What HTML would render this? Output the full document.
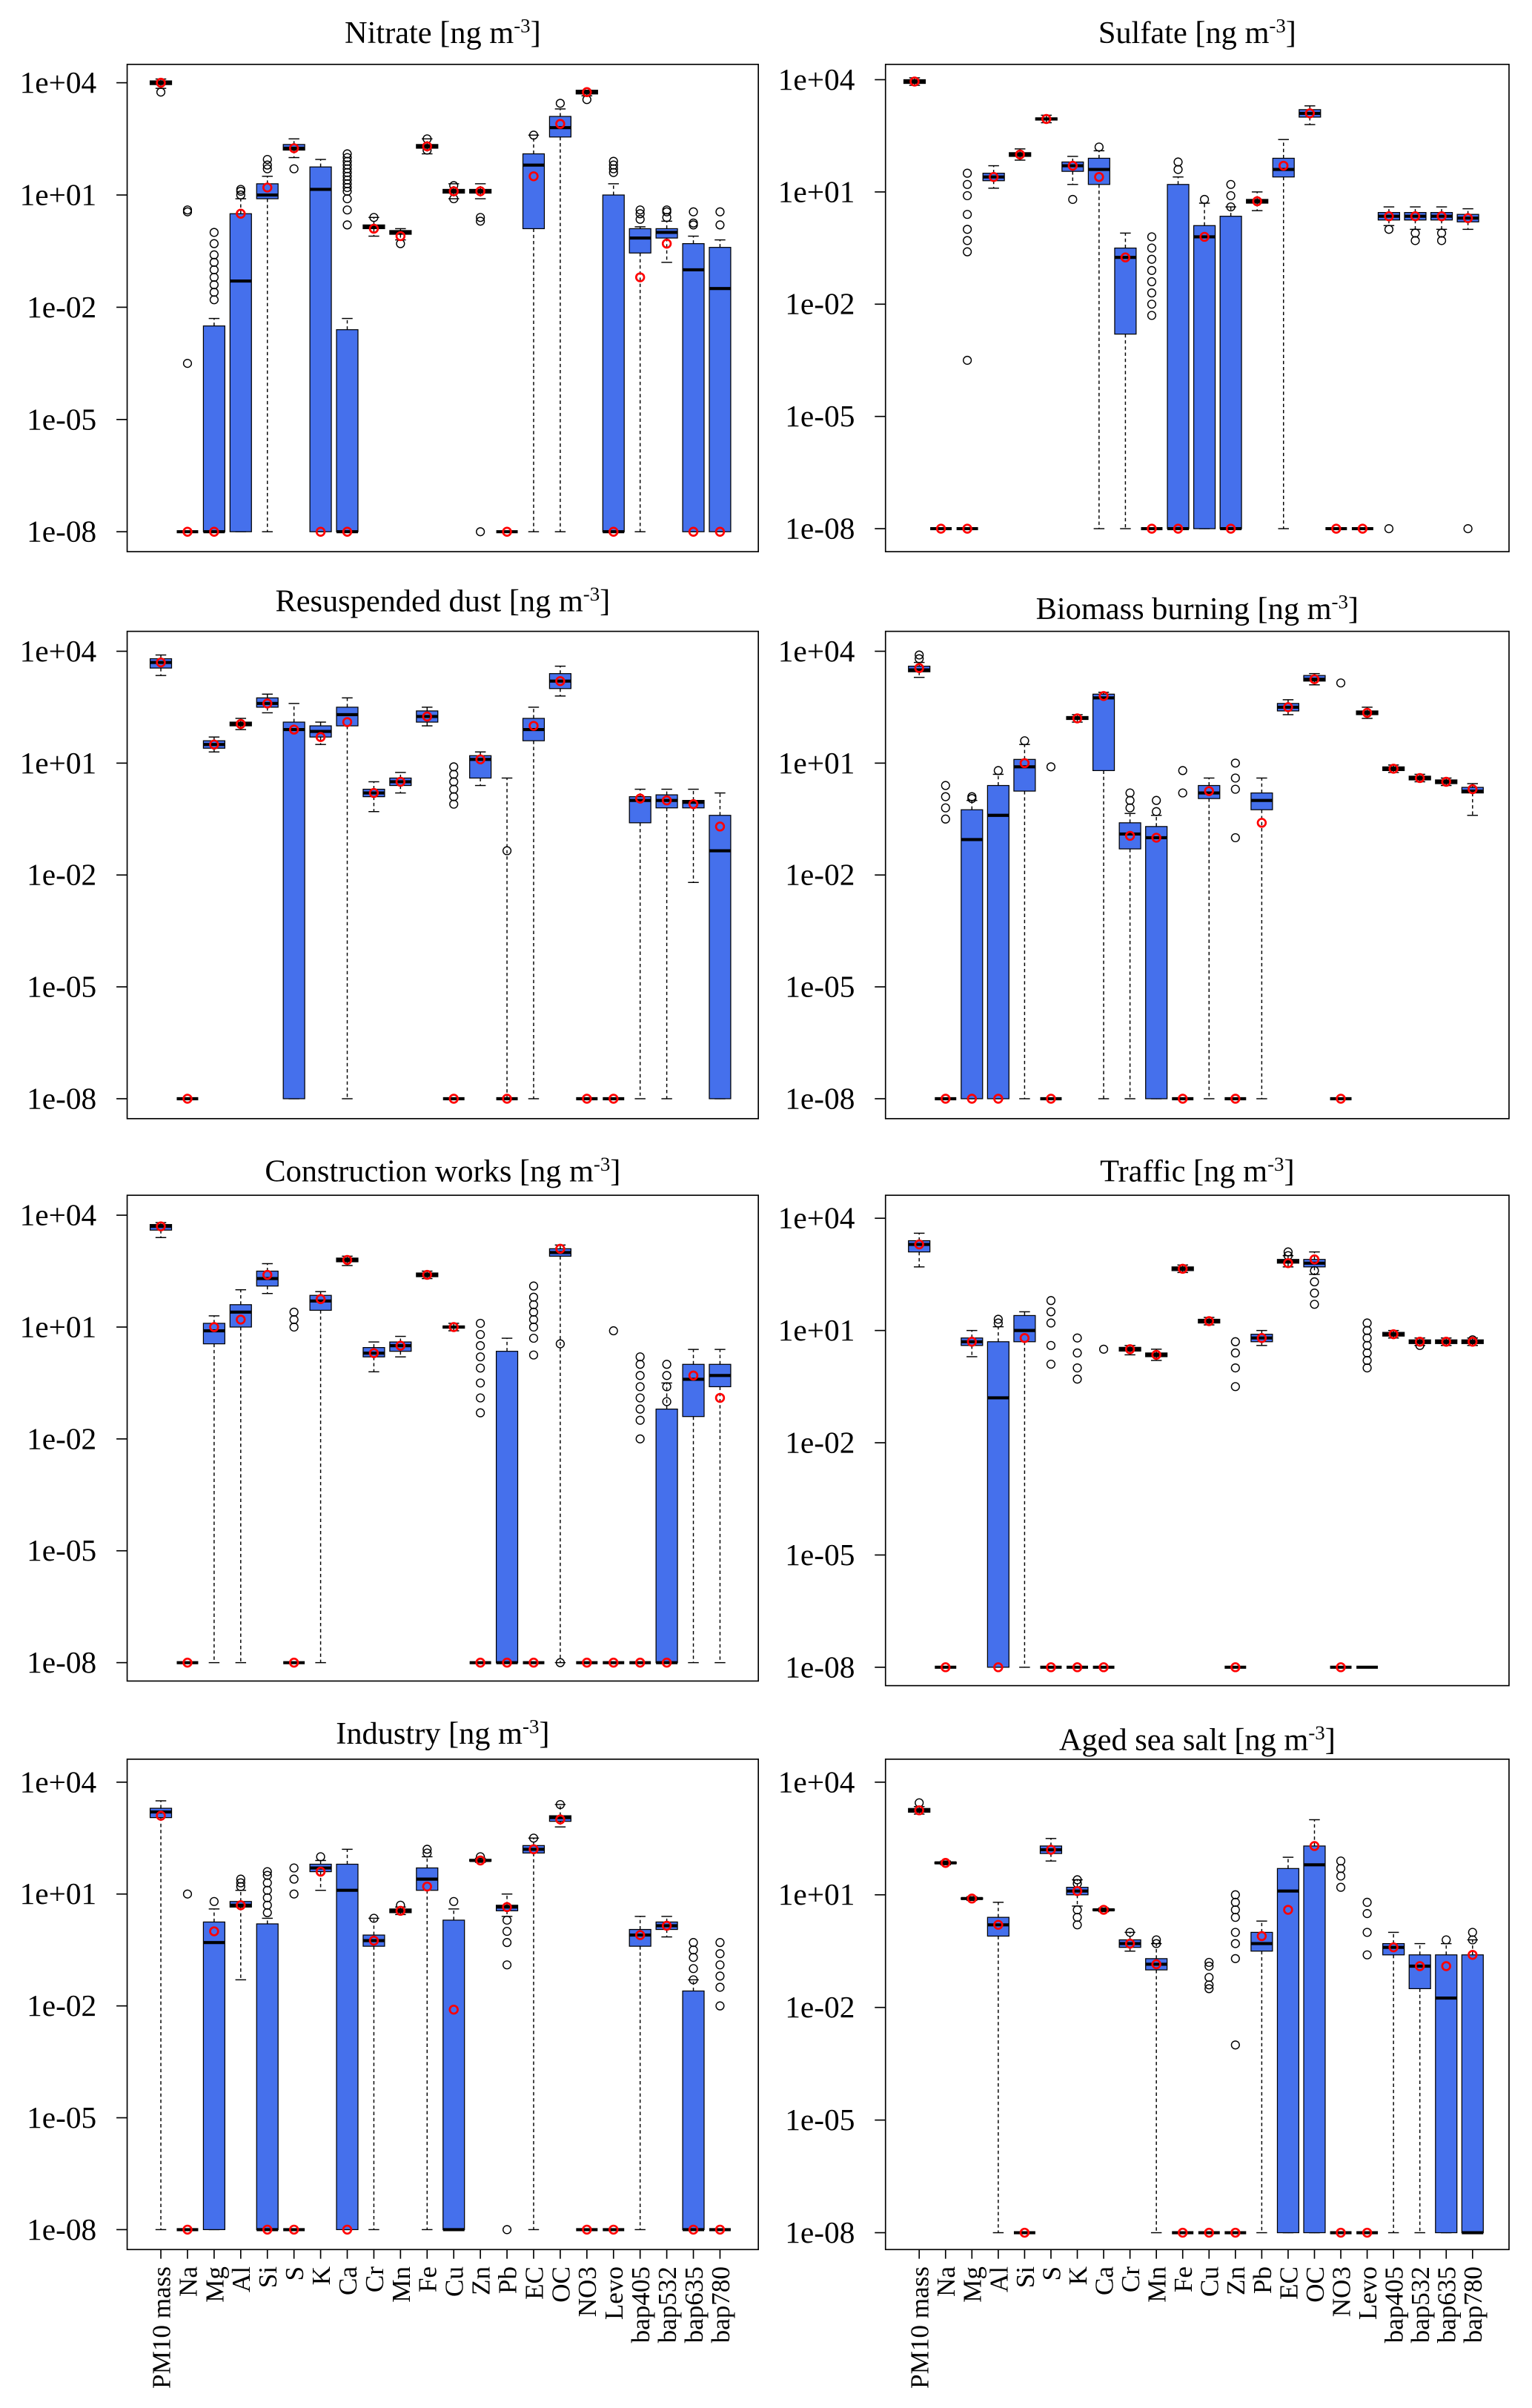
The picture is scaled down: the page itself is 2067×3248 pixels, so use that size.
<!DOCTYPE html>
<html><head><meta charset="utf-8"><style>
html,body{margin:0;padding:0;background:#fff}
svg{display:block}
text{font-family:"Liberation Serif",serif;fill:#000}
</style></head><body>
<svg id="chart" width="2067" height="3248" viewBox="0 0 1000 1571.4" preserveAspectRatio="none" xmlns="http://www.w3.org/2000/svg"></svg>
<script>
const categories = ["PM10 mass","Na","Mg","Al","Si","S","K","Ca","Cr","Mn","Fe","Cu","Zn","Pb","EC","OC","NO3","Levo","bap405","bap532","bap635","bap780"];
const yTickValues = [4,1,-2,-5,-8];
const yTickLabels = ["1e+04","1e+01","1e-02","1e-05","1e-08"];
// each entry: [whiskerLow, q1, median, q3, whiskerHigh, mean] in log10 units
const nitrateStats = [[3.85,3.95,4,4.05,4.1,4],[null,-8,-8,-8,null,-8],[-8,-8,-8,-2.5,-2.3,-8],[-8,-8,-1.3,0.5,0.9,0.5],[-8,0.9,1,1.3,1.5,1.2],[2,2.2,2.25,2.35,2.5,2.25],[-8,-8,1.15,1.75,1.95,-8],[-8,-8,-8,-2.6,-2.3,-8],[-0.1,0.1,0.15,0.2,0.4,0.1],[-0.2,-0.05,0,0.05,0.1,-0.1],[2.1,2.25,2.3,2.35,2.5,2.3],[0.9,1.05,1.1,1.15,1.3,1.1],[0.9,1.05,1.1,1.15,1.3,1.1],[null,-8,-8,-8,null,-8],[-8,0.1,1.8,2.1,2.6,1.5],[-8,2.55,2.8,3.1,3.3,2.9],[3.65,3.7,3.75,3.8,3.8,3.75],[-8,-8,-8,1,1.3,-8],[-8,-0.55,-0.15,0.1,0.15,-1.2],[-0.8,-0.15,0,0.1,0.3,-0.3],[-8,-8,-1,-0.3,-0.1,-8],[-8,-8,-1.5,-0.4,-0.2,-8]];
const nitrateOut = [[3.75],[0.6,0.55,-3.5],[0,-0.3,-0.6,-0.8,-1,-1.2,-1.4,-1.6,-1.8],[1,1.1,1.15],[1.7,1.8,1.95],[1.7],[],[2.1,2,1.9,1.8,1.7,1.6,1.5,1.4,1.3,1.2,1.1,0.9,0.6,0.2],[0.4],[-0.3],[2.2,2.5],[0.9,1.25],[0.4,0.3,-8],[],[2.6],[3.45],[3.55],[1.6,1.7,1.8,1.9],[0.35,0.5,0.6],[0.4,0.55,0.6],[0.2,0.25,0.55],[0.2,0.55]];
const sulfateStats = [[3.85,3.9,3.95,4,4.05,3.95],[null,-8,-8,-8,null,-8],[null,-8,-8,-8,null,-8],[1.1,1.3,1.4,1.5,1.7,1.4],[1.85,1.95,2,2.05,2.15,2],[2.85,2.92,2.95,2.98,3.05,2.95],[1.2,1.55,1.7,1.8,1.95,1.7],[-8,1.2,1.6,1.9,2.1,1.4],[-8,-2.8,-0.75,-0.5,-0.1,-0.75],[null,-8,-8,-8,null,-8],[-8,-8,-8,1.2,1.4,-8],[-8,-8,-0.2,0.1,0.7,-0.2],[-8,-8,-8,0.35,0.6,-8],[0.5,0.7,0.75,0.8,1,0.75],[-8,1.4,1.6,1.9,2.4,1.7],[2.8,3,3.1,3.2,3.3,3.1],[null,-8,-8,-8,null,-8],[null,-8,-8,-8,null,-8],[0.1,0.25,0.35,0.45,0.6,0.35],[0,0.25,0.35,0.45,0.6,0.35],[0,0.25,0.35,0.45,0.6,0.35],[0,0.2,0.3,0.4,0.55,0.3]];
const sulfateOut = [[],[],[1.2,1.5,0.9,0.4,0,-0.3,-0.6,-3.5],[],[],[],[0.8],[2.2],[],[-0.2,-0.5,-0.8,-1.1,-1.4,-1.7,-2,-2.3],[1.6,1.8],[0.8],[0.6,0.9,1.2],[],[],[],[],[],[0,-8],[-0.1,-0.3],[-0.1,-0.3],[-8]];
const dustStats = [[3.35,3.55,3.7,3.8,3.9,3.7],[null,-8,-8,-8,null,-8],[1.3,1.4,1.5,1.6,1.7,1.5],[1.9,2,2.05,2.1,2.2,2.05],[2.35,2.5,2.6,2.75,2.85,2.6],[-8,-8,1.9,2.1,2.6,1.9],[1.5,1.7,1.85,2,2.1,1.7],[-8,2,2.3,2.5,2.75,2.1],[-0.3,0.1,0.2,0.3,0.5,0.2],[0.2,0.4,0.5,0.6,0.75,0.5],[2,2.1,2.25,2.4,2.5,2.25],[null,-8,-8,-8,null,-8],[0.4,0.6,1.1,1.2,1.3,1.1],[-8,-8,-8,-8,0.6,-8],[-8,1.6,1.9,2.2,2.5,2],[2.8,3,3.2,3.4,3.6,3.2],[null,-8,-8,-8,null,-8],[null,-8,-8,-8,null,-8],[-8,-0.6,0,0.1,0.3,0.05],[-8,-0.2,0,0.15,0.3,0],[-2.2,-0.2,-0.05,0,0.3,-0.1],[-8,-8,-1.35,-0.4,0.2,-0.7]];
const dustOut = [[],[],[],[],[],[],[],[],[],[],[],[0.9,0.7,0.5,0.3,0.1,-0.1],[],[-1.35],[],[],[],[],[],[],[],[]];
const biomassStats = [[3.3,3.45,3.5,3.6,3.7,3.55],[null,-8,-8,-8,null,-8],[-8,-8,-1.05,-0.25,0,-8],[-8,-8,-0.4,0.4,0.7,-8],[-8,0.25,0.9,1.1,1.5,1],[null,-8,-8,-8,null,-8],[2.1,2.17,2.2,2.25,2.3,2.2],[-8,0.8,2.75,2.85,2.9,2.8],[-8,-1.3,-0.9,-0.6,-0.35,-0.95],[-8,-8,-1,-0.7,-0.4,-1],[null,-8,-8,-8,null,-8],[-8,0.05,0.2,0.4,0.6,0.25],[null,-8,-8,-8,null,-8],[-8,-0.25,0,0.2,0.6,-0.6],[2.3,2.4,2.5,2.6,2.7,2.5],[3.1,3.2,3.25,3.35,3.4,3.25],[null,-8,-8,-8,null,-8],[2.2,2.3,2.35,2.4,2.5,2.35],[0.75,0.8,0.85,0.9,0.95,0.85],[0.5,0.55,0.6,0.65,0.7,0.6],[0.4,0.45,0.5,0.55,0.6,0.5],[-0.4,0.2,0.25,0.35,0.45,0.3]];
const biomassOut = [[3.8,3.9],[0.4,0.1,-0.2,-0.5],[0.1,0.05],[0.8],[1.6],[0.9],[],[],[-0.2,0,0.2],[-0.3,0],[0.8,0.2],[],[1,0.6,0.3,-1],[],[],[],[3.15],[],[],[],[],[]];
const constructionStats = [[3.4,3.6,3.7,3.75,3.8,3.7],[null,-8,-8,-8,null,-8],[-8,0.55,0.9,1.1,1.3,1],[-8,1,1.4,1.6,2,1.2],[1.9,2.1,2.3,2.5,2.7,2.4],[null,-8,-8,-8,null,-8],[-8,1.45,1.7,1.85,1.95,1.75],[2.65,2.75,2.8,2.85,2.9,2.8],[-0.2,0.2,0.3,0.45,0.6,0.3],[0.2,0.35,0.5,0.6,0.75,0.5],[2.3,2.35,2.4,2.45,2.5,2.4],[0.9,0.97,1,1.03,1.1,1],[null,-8,-8,-8,null,-8],[-8,-8,-8,0.35,0.7,-8],[null,-8,-8,-8,null,-8],[-8,2.9,3,3.1,3.2,3.1],[null,-8,-8,-8,null,-8],[null,-8,-8,-8,null,-8],[null,-8,-8,-8,null,-8],[-8,-8,-8,-1.2,-0.5,-8],[-8,-1.4,-0.4,0,0.4,-0.3],[-8,-0.6,-0.3,0,0.4,-0.9]];
const constructionOut = [[],[],[],[],[],[1.4,1.2,1],[],[],[],[],[],[],[1.1,0.8,0.5,0.2,-0.1,-0.5,-0.9,-1.3,-8],[],[2.1,1.8,1.6,1.4,1.2,1,0.7,0.25,-8],[0.55,-8],[],[0.9,-8],[0.2,0,-0.3,-0.6,-0.9,-1.2,-1.5,-2],[-1,-0.6,-0.3,0],[],[]];
const trafficStats = [[2.7,3.1,3.3,3.4,3.6,3.3],[null,-8,-8,-8,null,-8],[0.3,0.6,0.7,0.8,1,0.7],[-8,-8,-0.8,0.7,1.1,-8],[-8,0.7,1,1.4,1.5,0.8],[null,-8,-8,-8,null,-8],[null,-8,-8,-8,null,-8],[null,-8,-8,-8,null,-8],[0.35,0.45,0.5,0.55,0.6,0.5],[0.2,0.3,0.35,0.4,0.5,0.35],[2.55,2.6,2.65,2.7,2.75,2.65],[1.15,1.2,1.25,1.3,1.35,1.25],[null,-8,-8,-8,null,-8],[0.6,0.7,0.8,0.9,1,0.8],[2.7,2.8,2.85,2.9,3,2.8],[2.5,2.7,2.8,2.9,3.1,2.9],[null,-8,-8,-8,null,-8],[null,-8,-8,-8,null,null],[0.8,0.85,0.9,0.95,1,0.9],[0.6,0.65,0.7,0.75,0.8,0.7],[0.6,0.65,0.7,0.75,0.8,0.7],[0.6,0.65,0.7,0.75,0.8,0.7]];
const trafficOut = [[],[],[],[1.3,1.2],[],[1.8,1.5,1.2,0.6,0.1],[0.8,0.4,0,-0.3],[0.5],[],[],[],[],[0.7,0.4,0,-0.5],[],[3,3.1],[2.6,2.3,2,1.7],[],[1.2,1,0.8,0.6,0.4,0.2,0],[],[0.6],[],[0.75]];
const industryStats = [[-8,3.05,3.2,3.3,3.5,3.1],[null,-8,-8,-8,null,-8],[-8,-8,-0.3,0.25,0.6,0],[-1.3,0.65,0.7,0.8,1.1,0.7],[-8,-8,-8,0.2,0.35,-8],[null,-8,-8,-8,null,-8],[1.1,1.6,1.7,1.8,1.9,1.6],[-8,-8,1.1,1.8,2.2,-8],[-8,-0.4,-0.25,-0.1,0.35,-0.25],[0.45,0.5,0.55,0.6,0.65,0.55],[-8,1.1,1.4,1.7,2,1.2],[-8,-8,-8,0.3,0.6,-2.1],[1.85,1.88,1.9,1.93,1.96,1.9],[0.4,0.55,0.65,0.7,1,0.65],[-8,2.1,2.2,2.3,2.5,2.2],[2.8,2.95,3.05,3.1,3.4,3],[null,-8,-8,-8,null,-8],[null,-8,-8,-8,null,-8],[-8,-0.4,-0.1,0.05,0.4,-0.1],[-0.15,0.05,0.15,0.25,0.4,0.15],[-8,-8,-8,-1.6,-1.3,-8],[null,-8,-8,-8,null,-8]];
const industryOut = [[],[1],[0.8],[1.2,1.3,1.4],[0.5,0.7,0.9,1.1,1.3,1.5,1.6],[1,1.4,1.7],[2],[],[0.35],[0.7],[2.2,2.1],[0.8],[2],[0.3,0,-0.3,-0.9,-8],[2.5],[3.4],[],[],[],[],[-1.3,-1,-0.7,-0.5,-0.3],[-0.3,-0.6,-0.9,-1.2,-1.5,-2]];
const seasaltStats = [[3.15,3.2,3.25,3.3,3.35,3.25],[1.8,1.83,1.85,1.87,1.9,1.85],[0.85,0.88,0.9,0.92,0.95,0.9],[-8,-0.1,0.2,0.4,0.8,0.2],[null,-8,-8,-8,null,-8],[1.9,2.1,2.2,2.3,2.5,2.2],[0.7,1,1.1,1.2,1.4,1.1],[0.55,0.58,0.6,0.62,0.65,0.6],[-0.5,-0.4,-0.3,-0.2,0,-0.3],[-8,-1,-0.85,-0.7,-0.3,-0.85],[null,-8,-8,-8,null,-8],[null,-8,-8,-8,null,-8],[null,-8,-8,-8,null,-8],[-8,-0.5,-0.3,0,0.3,-0.1],[-8,-8,1.1,1.7,2,0.6],[-8,-8,1.8,2.3,3,2.3],[null,-8,-8,-8,null,-8],[null,-8,-8,-8,null,-8],[-8,-0.6,-0.4,-0.3,0,-0.4],[-8,-1.5,-0.9,-0.6,-0.3,-0.9],[-8,-8,-1.75,-0.6,-0.3,-0.9],[-8,-8,-8,-0.6,-0.2,-0.6]];
const seasaltOut = [[3.45],[],[],[],[],[],[1.3,1.4,0.6,0.4,0.2],[],[0],[-0.2,-0.3],[],[-0.8,-0.9,-1.2,-1.4,-1.5],[1,0.8,0.6,0.4,0,-0.3,-0.7,-3],[],[],[],[1.9,1.7,1.5,1.2],[0.8,0.5,0,-0.6],[],[],[-0.2],[-0.2,0]];

const panels = [
 {name:"nitrate",title:"Nitrate",stats:nitrateStats,out:nitrateOut,fx:83,fr:495,ft:42,fb:360,y4:54,y8:347,x0:105,dx:17.38,ty:28},
 {name:"sulfate",title:"Sulfate",stats:sulfateStats,out:sulfateOut,fx:578,fr:985,ft:42,fb:360,y4:52,y8:345,x0:597,dx:17.2,ty:28},
 {name:"resuspended-dust",title:"Resuspended dust",stats:dustStats,out:dustOut,fx:83,fr:495,ft:412,fb:730,y4:425,y8:717,x0:105,dx:17.38,ty:399},
 {name:"biomass-burning",title:"Biomass burning",stats:biomassStats,out:biomassOut,fx:578,fr:985,ft:412,fb:730,y4:425,y8:717,x0:600,dx:17.2,ty:404},
 {name:"construction-works",title:"Construction works",stats:constructionStats,out:constructionOut,fx:83,fr:495,ft:780,fb:1097,y4:793,y8:1085,x0:105,dx:17.38,ty:771},
 {name:"traffic",title:"Traffic",stats:trafficStats,out:trafficOut,fx:578,fr:985,ft:780,fb:1100,y4:795,y8:1088,x0:600,dx:17.2,ty:771},
 {name:"industry",title:"Industry",stats:industryStats,out:industryOut,fx:83,fr:495,ft:1148,fb:1468,y4:1163,y8:1455,x0:105,dx:17.38,ty:1138,xl:true},
 {name:"aged-sea-salt",title:"Aged sea salt",stats:seasaltStats,out:seasaltOut,fx:578,fr:985,ft:1148,fb:1468,y4:1163,y8:1457,x0:600,dx:17.2,ty:1142,xl:true}
];
const svg = document.getElementById('chart');
const NS = "http://www.w3.org/2000/svg";
function mk(tag, attrs, parent){const e=document.createElementNS(NS,tag);for(const k in attrs)e.setAttribute(k,attrs[k]);parent.appendChild(e);return e;}
panels.forEach(p=>{
  const g = mk('g',{},svg);
  
  
  const Y = v => p.y4 + (4 - v) / 12 * (p.y8 - p.y4);
  const X = i => p.x0 + i * p.dx;
  const t = mk('text',{x:(p.fx+p.fr)/2,y:p.ty,'text-anchor':'middle','font-size':20.5},g);
  
  
  t.appendChild(document.createTextNode(p.title+" [ng m"));
  const s1 = mk('tspan',{dy:-7,'font-size':13},t); s1.textContent="-3";
  const s2 = mk('tspan',{dy:7},t); s2.textContent="]";
  const fr = mk('rect',{x:p.fx,y:p.ft,width:p.fr-p.fx,height:p.fb-p.ft,fill:'none',stroke:'#000','stroke-width':0.8},g);
  
  
  yTickValues.forEach((v,i)=>{
    const y=Y(v);
    mk('line',{x1:p.fx-7,x2:p.fx,y1:y,y2:y,stroke:'#000','stroke-width':0.8},g);
    const tl = mk('text',{x:p.fx-20,y:y+6.5,'text-anchor':'end','font-size':20},g);
    
    
    tl.textContent = yTickLabels[i];
  });
  p.stats.forEach((st,i)=>{
    const [lo,q1,md,q3,hi,mean]=st; const x=X(i); const w=7; const cw=3.5;
    const bg = mk('g',{},g);
    
    
    if(lo!==null){mk('line',{x1:x,x2:x,y1:Y(q1),y2:Y(lo),stroke:'#000','stroke-width':0.7,'stroke-dasharray':'2.2,1.8'},bg);
      mk('line',{x1:x-cw,x2:x+cw,y1:Y(lo),y2:Y(lo),stroke:'#000','stroke-width':0.7},bg);}
    if(hi!==null){mk('line',{x1:x,x2:x,y1:Y(q3),y2:Y(hi),stroke:'#000','stroke-width':0.7,'stroke-dasharray':'2.2,1.8'},bg);
      mk('line',{x1:x-cw,x2:x+cw,y1:Y(hi),y2:Y(hi),stroke:'#000','stroke-width':0.7},bg);}
    if(q3>q1) mk('rect',{x:x-w,y:Y(q3),width:2*w,height:Y(q1)-Y(q3),fill:'#4570ec',stroke:'#000','stroke-width':0.6},bg);
    mk('line',{x1:x-w,x2:x+w,y1:Y(md),y2:Y(md),stroke:'#000','stroke-width':2},bg);
    p.out[i].forEach(o=>mk('circle',{cx:x,cy:Y(o),r:2.6,fill:'none',stroke:'#000','stroke-width':0.7},bg));
    if(mean!==null) mk('circle',{cx:x,cy:Y(mean),r:2.6,fill:'none',stroke:'#f00','stroke-width':1.3},bg);
  });
  if(p.xl){
    categories.forEach((c,i)=>{
      const x=X(i);
      mk('line',{x1:x,x2:x,y1:p.fb,y2:p.fb+6,stroke:'#000','stroke-width':0.8},g);
      const tl = mk('text',{transform:`translate(${x+6},${p.fb+11}) rotate(-90)`,'text-anchor':'end','font-size':17},g);
      
      
      tl.textContent=c;
    });
  }
});
</script>
</body></html>
